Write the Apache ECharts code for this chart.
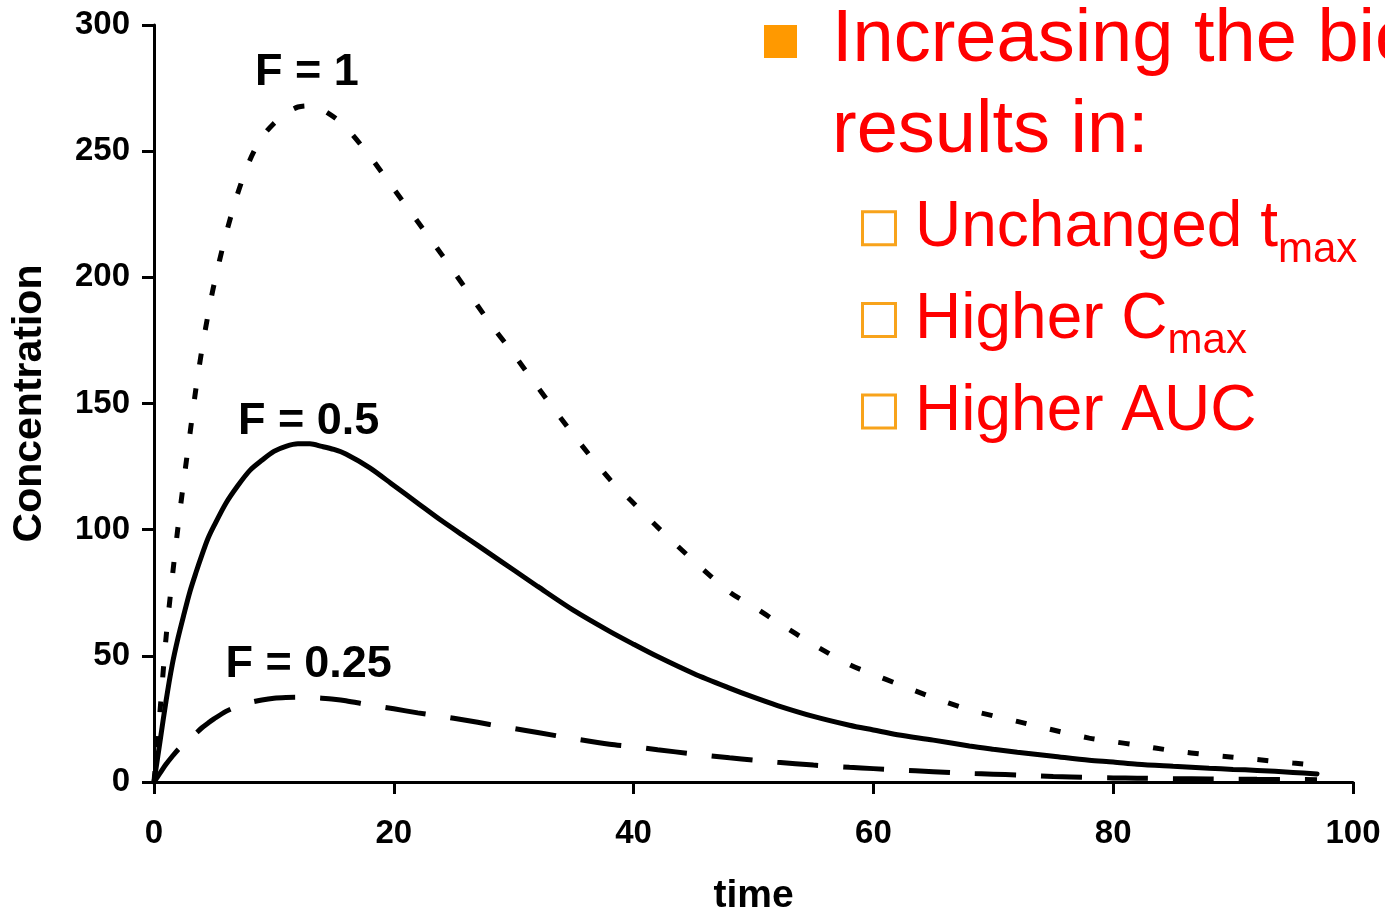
<!DOCTYPE html>
<html>
<head>
<meta charset="utf-8">
<script src="https://cdn.jsdelivr.net/npm/echarts@6/dist/echarts.min.js"></script>
<style>
  html, body { margin: 0; padding: 0; background: #fff; }
  #chart { width: 1385px; height: 913px; }
</style>
</head>
<body>
<div id="chart"></div>
<script>
// Sampling times shared by the three concentration curves
const time = [0, 0.5, 1, 1.5, 2, 2.5, 3, 3.5, 4, 4.5, 5, 6, 7, 8, 9, 10, 11, 12, 13, 14,
  15, 16, 18, 20, 22, 24, 26, 28, 30, 32, 35, 38, 40, 42, 45, 48, 50, 52, 55, 58,
  60, 62, 65, 68, 70, 72, 75, 78, 80, 82, 85, 88, 90, 92, 95, 97];

// Plasma concentration for each bioavailability F
const concF1 = [0, 28, 57, 80, 101, 120, 138, 156, 171.5, 185, 197, 217, 233.5, 246.5, 255.5, 261, 265, 267.5, 268, 266.5,
  263.5, 259.5, 248, 235, 222, 209, 195.5, 182, 169.5, 156.5, 137.5, 120, 110.5, 101, 87.7, 75.3, 69.5, 63.3, 54.5, 46.5,
  42.6, 38.9, 33.4, 28.6, 26.2, 24, 20.6, 17.4, 16, 14.6, 12.4, 10.7, 9.85, 8.9, 7.5, 6.6];
const concF05 = [0, 16, 32, 46, 57, 66.5, 75.5, 83, 90, 96.5, 101.5, 110.5, 117.5, 123.5, 127.5, 131, 133, 134, 134, 133,
  131.8, 130, 124.5, 117.5, 110.5, 103.5, 97, 90.5, 84, 77.5, 68, 59.7, 54.6, 49.7, 43, 37.2, 33.6, 30.3, 26, 22.5,
  20.6, 18.7, 16.6, 14.3, 13, 11.8, 10.2, 8.6, 7.9, 7.0, 6.2, 5.45, 5.0, 4.6, 3.8, 3.2];
const concF025 = [0, 3.5, 7, 10, 12.8, 15, 17, 19.3, 21.5, 23.3, 25, 28, 30, 31.5, 32.5, 33.2, 33.5, 33.6, 33.5, 33.2,
  32.8, 32.2, 30.5, 29, 27.4, 26, 24.5, 22.8, 21.2, 19.6, 17.2, 15, 14, 12.8, 11.1, 9.6, 8.7, 7.8, 6.7, 5.8,
  5.3, 4.8, 4.1, 3.4, 3.1, 2.8, 2.2, 1.8, 1.6, 1.5, 1.3, 1.2, 1.1, 1.05, 1.0, 0.9];

const seriesNames = ['F = 1', 'F = 0.5', 'F = 0.25'];
// Caption centres in data units (time, concentration)
const captionAnchors = [[12.76, 281], [12.9, 143], [12.9, 46.5]];

const xTicks = [0, 20, 40, 60, 80, 100];
const yTicks = [0, 50, 100, 150, 200, 250, 300];

// Slide text beside the plot
const headline = ['Increasing the bioavailability', 'results in:'];
const effects = [['Unchanged t', 'max'], ['Higher C', 'max'], ['Higher AUC', '']];

const FONT = '"Liberation Sans", Arial, Helvetica, sans-serif';
const pairs = vals => time.map((t, i) => [t, vals[i]]);

const chart = echarts.init(document.getElementById('chart'), null, { renderer: 'canvas' });

const axisCommon = {
  type: 'value',
  nameLocation: 'middle',
  nameMoveOverlap: false,
  nameTextStyle: { fontFamily: FONT, fontWeight: 'bold', color: '#000' },
  axisLine: { show: true, lineStyle: { color: '#000', width: 3 } },
  axisTick: { show: true, inside: false, length: 12, lineStyle: { color: '#000', width: 3 } },
  axisLabel: { fontFamily: FONT, fontWeight: 'bold', fontSize: 33, color: '#000' },
  splitLine: { show: false }
};

chart.setOption({
  animation: false,
  backgroundColor: '#fff',
  grid: { left: 154, right: 32, top: 25, bottom: 131, containLabel: false, outerBoundsMode: 'none' },
  xAxis: Object.assign({}, axisCommon, {
    min: xTicks[0], max: xTicks[xTicks.length - 1], interval: xTicks[1] - xTicks[0],
    name: 'time', nameGap: 95,
    nameTextStyle: Object.assign({}, axisCommon.nameTextStyle, { fontSize: 39 }),
    axisLabel: Object.assign({}, axisCommon.axisLabel, { margin: 35 })
  }),
  yAxis: Object.assign({}, axisCommon, {
    min: yTicks[0], max: yTicks[yTicks.length - 1], interval: yTicks[1] - yTicks[0],
    name: 'Concentration', nameGap: 104, nameRotate: 90,
    nameTextStyle: Object.assign({}, axisCommon.nameTextStyle, { fontSize: 41 }),
    axisLabel: Object.assign({}, axisCommon.axisLabel, { margin: 24 })
  }),
  series: [
    { type: 'line', name: seriesNames[0], data: pairs(concF1), showSymbol: false, smooth: 0.3,
      lineStyle: { color: '#000', width: 5, type: [11, 24], cap: 'butt' } },
    { type: 'line', name: seriesNames[1], data: pairs(concF05), showSymbol: false, smooth: 0.3,
      lineStyle: { color: '#000', width: 5, type: 'solid', cap: 'round' } },
    { type: 'line', name: seriesNames[2], data: pairs(concF025), showSymbol: false, smooth: 0.3,
      lineStyle: { color: '#000', width: 5, type: [41, 25], cap: 'butt' } }
  ]
});

// Text measurement for placing subscripts after their main text
const measureCtx = document.createElement('canvas').getContext('2d');
function textWidth(str, size) {
  measureCtx.font = size + 'px ' + FONT;
  return measureCtx.measureText(str).width;
}

const graphics = [];

// Curve captions, positioned through the grid's own scales
seriesNames.forEach((name, i) => {
  const p = chart.convertToPixel({ gridIndex: 0 }, captionAnchors[i]);
  graphics.push({
    type: 'text', x: p[0], y: p[1], z: 10,
    style: { text: name, fill: '#000', font: 'bold 45px ' + FONT, align: 'center', verticalAlign: 'middle' }
  });
});

// Main bullet
const headSize = 74;
graphics.push({ type: 'rect', shape: { x: 764, y: 25, width: 33, height: 33 }, style: { fill: '#FF9900' } });
headline.forEach((line, i) => {
  graphics.push({
    type: 'text', x: 832, y: 41 + i * 91,
    style: { text: line, fill: '#FF0000', font: headSize + 'px ' + FONT, align: 'left', verticalAlign: 'middle' }
  });
});

// Sub bullets with hollow square markers
const subSize = 64, subScriptSize = 42;
effects.forEach((item, i) => {
  const baseline = 246.7 + i * 91.7;
  graphics.push({
    type: 'rect', shape: { x: 862.5, y: baseline - 35, width: 33, height: 33 },
    style: { fill: 'none', stroke: '#F8A31B', lineWidth: 3 }
  });
  graphics.push({
    type: 'text', x: 915, y: baseline + 4 - 0.3465 * subSize,
    style: { text: item[0], fill: '#FF0000', font: subSize + 'px ' + FONT, align: 'left', verticalAlign: 'middle' }
  });
  if (item[1]) {
    graphics.push({
      type: 'text', x: 915 + textWidth(item[0], subSize), y: baseline + 18 - 0.3465 * subScriptSize,
      style: { text: item[1], fill: '#FF0000', font: subScriptSize + 'px ' + FONT, align: 'left', verticalAlign: 'middle' }
    });
  }
});

chart.setOption({ graphic: graphics });
</script>
</body>
</html>
